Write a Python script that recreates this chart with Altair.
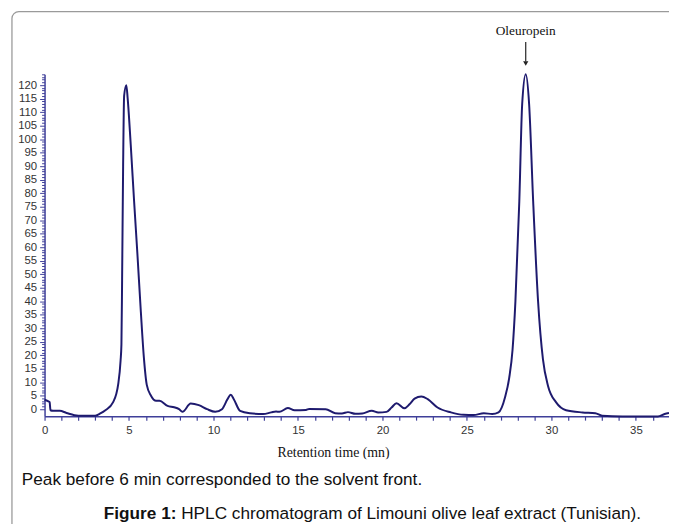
import altair as alt
import pandas as pd

# ---- data ----
time_min = [0.0, 0.2, 0.3, 0.35, 0.5, 0.9, 1.3, 2.0, 3.0, 3.3, 3.6, 4.06, 4.36, 4.5, 4.55,
            4.59, 4.65, 4.71, 4.84, 4.92, 5.1, 5.3, 5.5, 5.7, 5.88, 6.05, 6.3,
            6.6, 6.8, 7.28, 7.67, 7.96, 8.16, 8.65, 9.13, 9.62, 10.1, 10.5, 10.83, 11.02,
            11.2, 11.57, 12.15, 12.94, 13.42, 13.7, 13.9, 14.4, 14.8, 15.47, 15.66, 16.64,
            17.2, 17.6, 17.96, 18.4, 18.8, 19.37, 19.75, 20.24, 20.54, 20.83, 21.3, 21.6,
            21.9, 22.3, 22.68, 23.26, 24.05, 24.8, 25.4, 26.0, 26.5, 26.87, 27.26, 27.5,
            27.7, 27.87, 28.1, 28.27, 28.48, 28.68, 28.92, 29.21, 29.5, 29.8, 30.28,
            30.87, 31.84, 32.6, 33.0, 34.2, 36.3, 36.7, 36.96]
signal = [3.5, 3.0, 2.6, -0.4, -0.6, -0.6, -1.4, -2.4, -2.4, -1.6, -0.4, 2.6, 9.3, 18, 24,
          48, 90, 116, 120, 115, 98, 77, 57, 36, 19, 9, 5.0,
          3.1, 3.1, 1.2, 0.7, 0.0, -1.0, 2.1, 1.5, 0.0, -1.0, 0.0, 3.7, 5.3,
          3.7, -0.6, -1.5, -1.8, -1.2, -0.9, -1.0, 0.4, -0.4, -0.3, 0.1, 0.0,
          -1.5, -1.6, -1.1, -1.7, -1.6, -0.6, -1.2, -1.0, 0.6, 2.2, 0.3, 1.8,
          3.9, 4.7, 3.7, 0.6, -1.2, -2.1, -2.2, -1.5, -1.8, -1.2, 4.5, 11.5,
          22, 40, 77, 113, 124, 113, 77, 40, 18.4, 8.6, 2.5,
          -0.4, -1.2, -1.5, -2.4, -2.7, -2.7, -1.8, -1.4]

x_ticks = list(range(0, 37))
y_ticks = list(range(0, 125))
label_step = 5
peak_time = [28.48]
peak_label = "Oleuropein"
x_title = "Retention time (mn)"
note = "Peak before 6 min corresponded to the solvent front."
fig_bold = "Figure 1:"
fig_text = "HPLC chromatogram of Limouni olive leaf extract (Tunisian)."

df = pd.DataFrame({"t": time_min, "v": signal})
peak_df = pd.DataFrame({"t": peak_time})
one = alt.Data(values=[{"k": 1}])

AXIS = "#3f3f99"
LINE = "#1e1a6e"
SANS = "Liberation Sans"
SERIF = "Liberation Serif"
CAP = 17.4

xscale = alt.Scale(domain=[0, 36.96], nice=False, zero=False)
yscale = alt.Scale(domain=[-2.6, 124], nice=False, zero=False)

lab_expr = f"datum.value % {label_step} === 0 ? datum.label : ''"

x_axis = alt.Axis(
    values=x_ticks, labelExpr=lab_expr, title=None, grid=False,
    domainColor=AXIS, domainWidth=1.5, tickColor=AXIS, tickSize=4, tickWidth=1.2,
    labelPadding=5, labelFont=SANS, labelFontSize=11.5, labelColor="#333333",
    labelOverlap=False, labelFlush=False)
X = alt.X("t:Q", scale=xscale, axis=x_axis, title=None)

frame = alt.Chart(one).mark_rect(
    cornerRadius=7, fill="white", fillOpacity=0, stroke="#9a9a9a", strokeWidth=1.3
).encode(x=alt.value(-33), x2=alt.value(720), y=alt.value(-63.5), y2=alt.value(640))

line = alt.Chart(df).mark_line(color=LINE, strokeWidth=2, interpolate="monotone").encode(
    x=X,
    y=alt.Y("v:Q", scale=yscale, axis=alt.Axis(
        values=y_ticks, labelExpr=lab_expr, title=None, grid=False,
        domainColor=AXIS, domainWidth=1.5, tickColor=AXIS, tickWidth=1,
        tickSize={"condition": {"test": "datum.value % 5 === 0", "value": 5}, "value": 3},
        labelPadding=3, labelFont=SANS, labelFontSize=11.5, labelColor="#333333",
        labelOverlap=False, labelFlush=False)),
)

arrow = alt.Chart(peak_df).mark_rule(color="#222222", strokeWidth=1.2).encode(
    x=X, y=alt.value(-32.7), y2=alt.value(-13))
head = alt.Chart(peak_df).mark_point(shape="triangle-down", filled=True, size=28,
                                     color="#222222", opacity=1).encode(
    x=X, y=alt.value(-11))
plabel = alt.Chart(peak_df).mark_text(
    text=peak_label, font=SERIF, fontSize=13.5, baseline="alphabetic", align="center",
    color="#111111").encode(x=X, y=alt.value(-39.3))

xtitle = alt.Chart(one).mark_text(
    text=x_title, font=SERIF, fontSize=14, baseline="alphabetic", align="center",
    color="#111111").encode(x=alt.value(292.5), y=alt.value(387.5))
cover = alt.Chart(one).mark_rect(color="white").encode(
    x=alt.value(220), x2=alt.value(380), y=alt.value(389.5), y2=alt.value(401))

note_t = alt.Chart(one).mark_text(
    text=note, font=SANS, fontSize=CAP, baseline="alphabetic", align="left",
    color="#111111").encode(x=alt.value(-23), y=alt.value(416))
fig_b = alt.Chart(one).mark_text(
    text=fig_bold, font=SANS, fontSize=CAP, fontWeight="bold", baseline="alphabetic",
    align="left", color="#111111").encode(x=alt.value(60), y=alt.value(450))
fig_t = alt.Chart(one).mark_text(
    text=fig_text, font=SANS, fontSize=CAP, baseline="alphabetic", align="left",
    color="#111111").encode(x=alt.value(138.3), y=alt.value(450))

chart = alt.layer(frame, line, arrow, head, plabel, xtitle, cover, note_t, fig_b, fig_t).properties(
    width=632, height=346,
    autosize=alt.AutoSizeParams(type="none"),
    padding={"left": 37, "top": 64, "right": 0, "bottom": 106},
).configure_view(stroke=None)

chart.save("out.html", embed_options={"renderer": "svg", "actions": False})
